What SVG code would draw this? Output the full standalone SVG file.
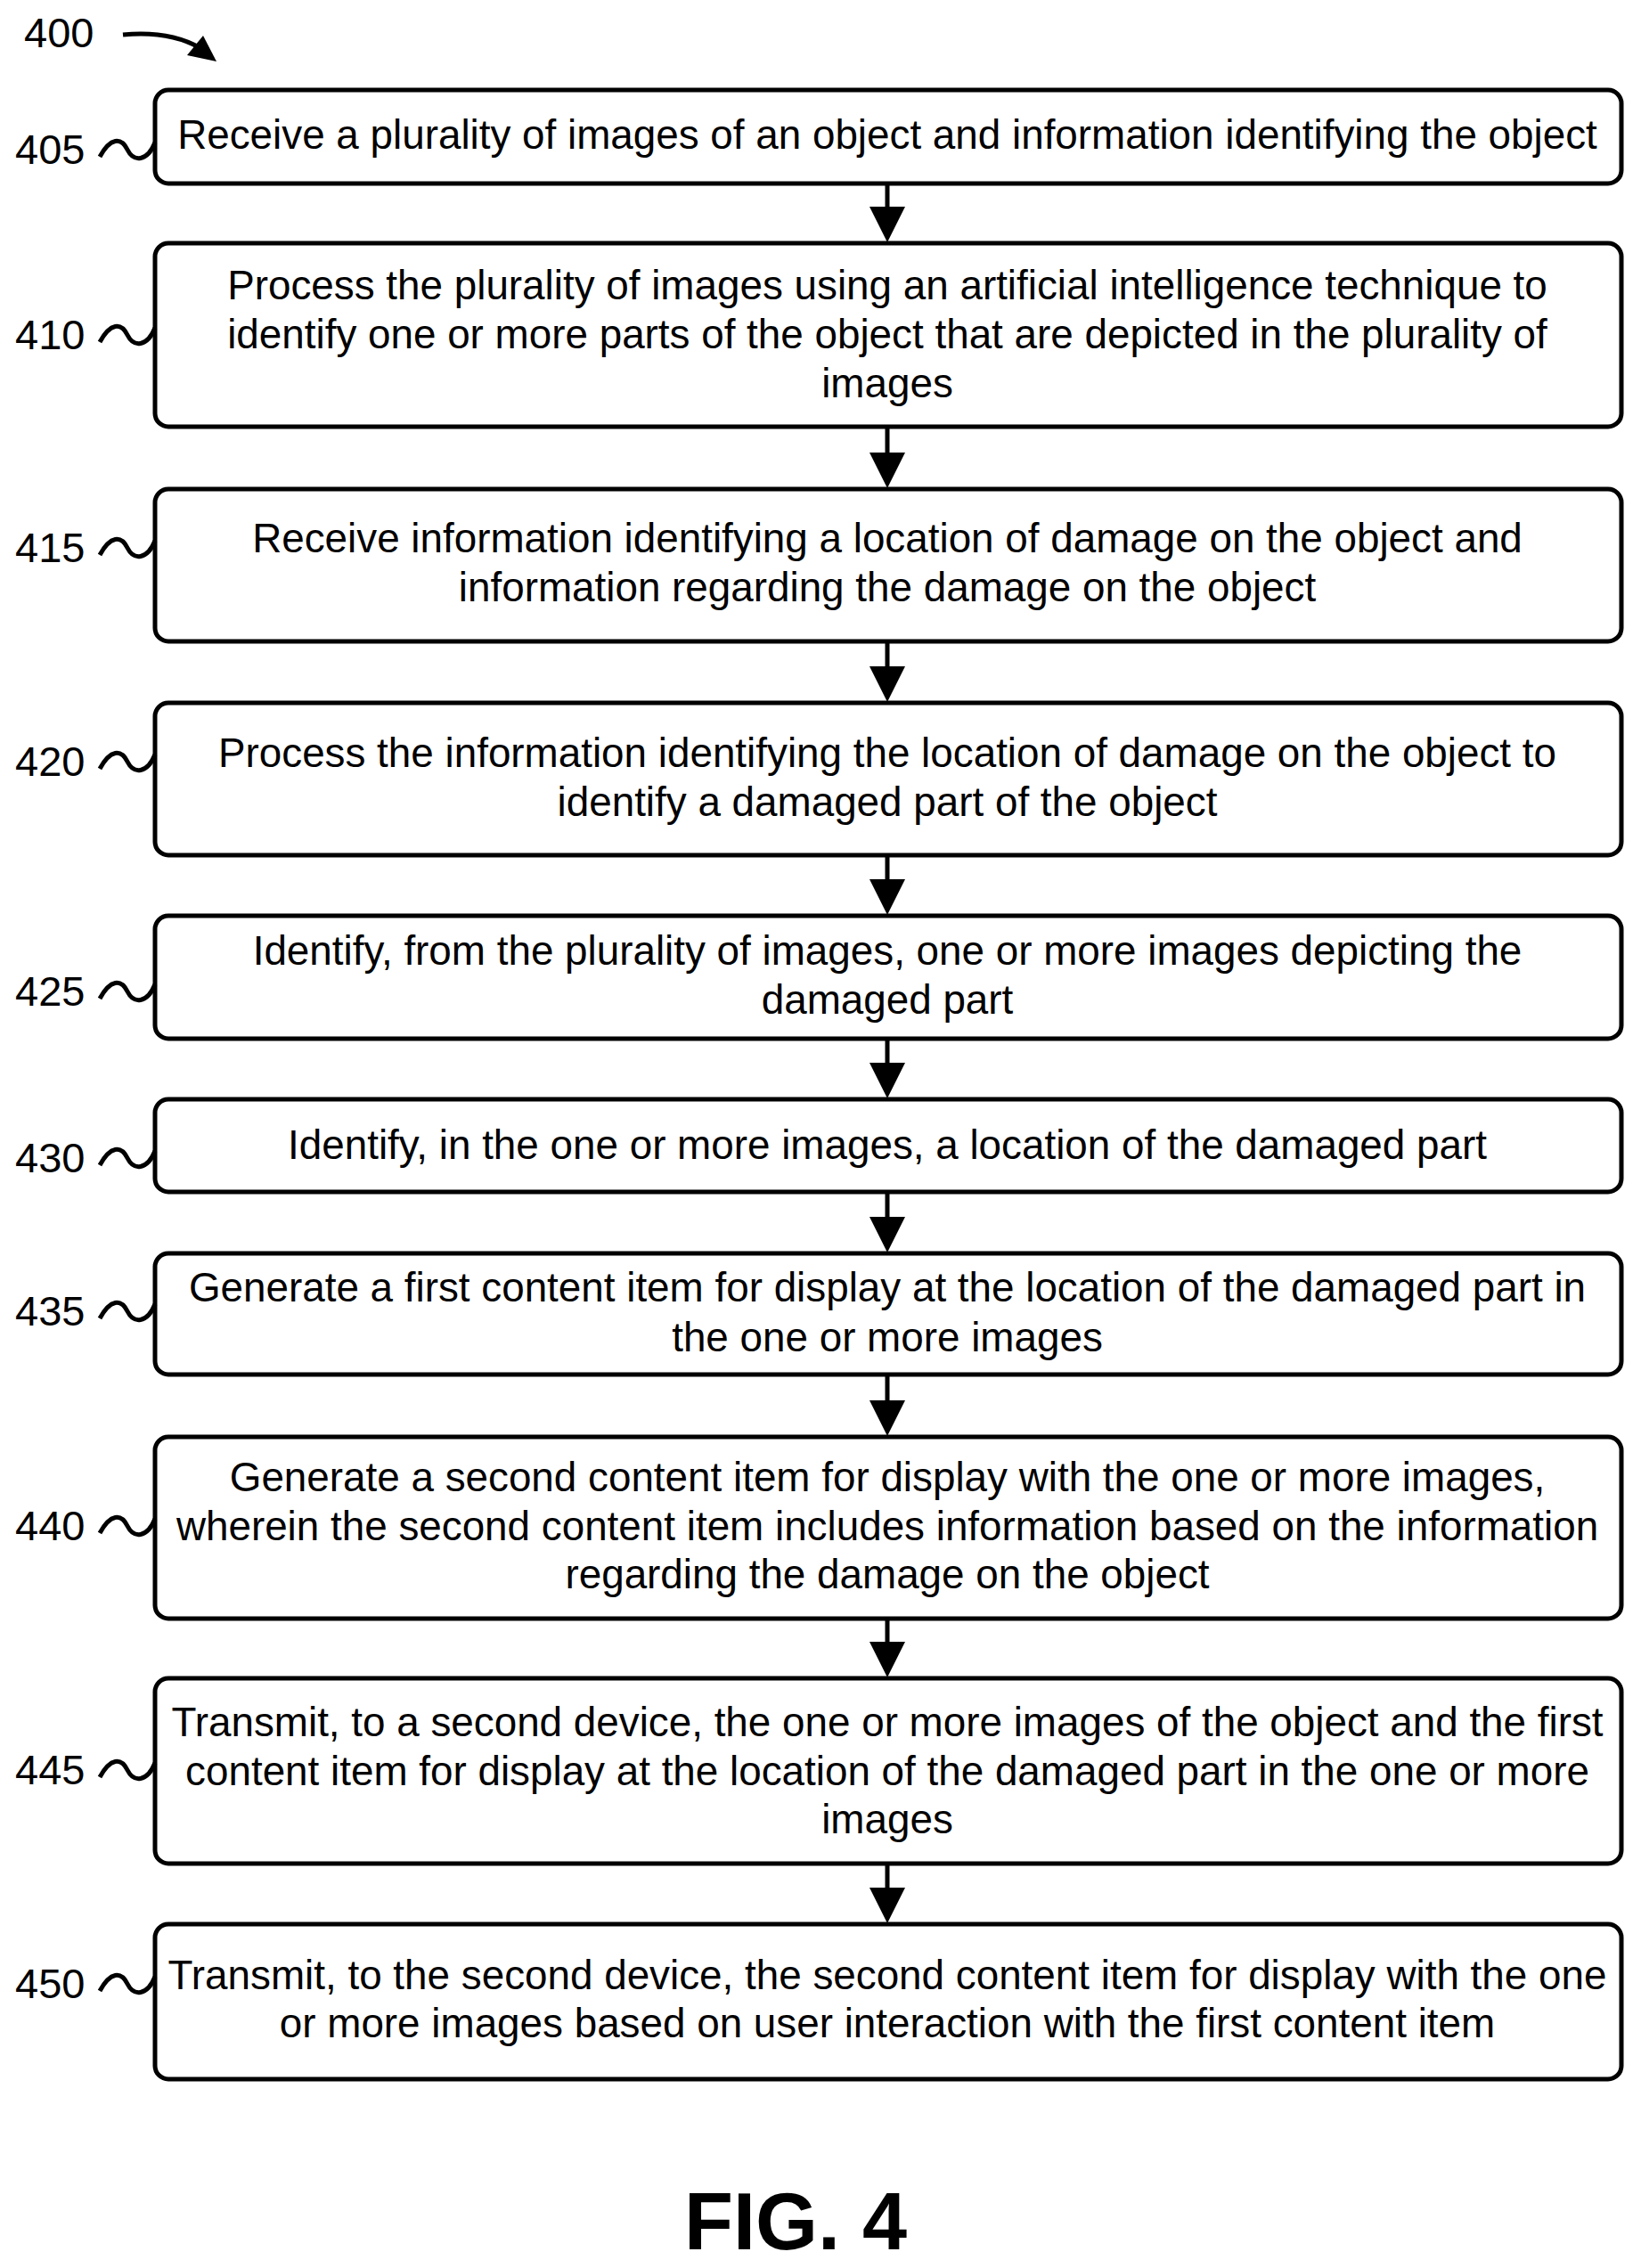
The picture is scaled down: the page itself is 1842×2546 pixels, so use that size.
<svg xmlns="http://www.w3.org/2000/svg" width="1842" height="2546" viewBox="0 0 1842 2546">
<style>
.b{fill:#fff;stroke:#000;stroke-width:5}
.t{font-family:"Liberation Sans",Arial,sans-serif;font-size:45.8px;text-anchor:middle;fill:#000}
.l{font-family:"Liberation Sans",Arial,sans-serif;font-size:47px;fill:#000}
.w{fill:none;stroke:#000;stroke-width:5}
.c{stroke:#000;stroke-width:5;fill:none;marker-end:url(#ah)}
</style>
<defs>
<marker id="ah" markerWidth="8" markerHeight="8" refX="4" refY="4" orient="auto" markerUnits="strokeWidth" viewBox="0 0 8 8"><path d="M0,0 L8,4 L0,8 z" fill="#000"/></marker>
</defs>
<rect width="1842" height="2546" fill="#fff"/>
<text class="l" x="27" y="53">400</text>
<path d="M138,39 Q190,34 225,54" fill="none" stroke="#000" stroke-width="5"/>
<path d="M243,69 L210,62 L228,40 z" fill="#000"/>
<g id="connectors">
<line class="c" x1="996" y1="206" x2="996" y2="252"/>
<line class="c" x1="996" y1="479" x2="996" y2="528"/>
<line class="c" x1="996" y1="720" x2="996" y2="768"/>
<line class="c" x1="996" y1="960" x2="996" y2="1007"/>
<line class="c" x1="996" y1="1166" x2="996" y2="1213"/>
<line class="c" x1="996" y1="1338" x2="996" y2="1386"/>
<line class="c" x1="996" y1="1543" x2="996" y2="1592"/>
<line class="c" x1="996" y1="1817" x2="996" y2="1863"/>
<line class="c" x1="996" y1="2092" x2="996" y2="2139"/>
</g>
<g id="n405"><rect class="b" x="174" y="101" width="1646" height="105" rx="15"/><text class="t" x="996" y="167">Receive a plurality of images of an object and information identifying the object</text><text class="l" x="17" y="184">405</text><path class="w" d="M112,176 c12,-22 24,-22 31,-8 c7,14 22,14 31,-8"/></g>
<g id="n410"><rect class="b" x="174" y="273" width="1646" height="206" rx="15"/><text class="t" x="996" y="336">Process the plurality of images using an artificial intelligence technique to</text><text class="t" x="996" y="391">identify one or more parts of the object that are depicted in the plurality of</text><text class="t" x="996" y="446">images</text><text class="l" x="17" y="392">410</text><path class="w" d="M112,384 c12,-22 24,-22 31,-8 c7,14 22,14 31,-8"/></g>
<g id="n415"><rect class="b" x="174" y="549" width="1646" height="171" rx="15"/><text class="t" x="996" y="620">Receive information identifying a location of damage on the object and</text><text class="t" x="996" y="675">information regarding the damage on the object</text><text class="l" x="17" y="631">415</text><path class="w" d="M112,623 c12,-22 24,-22 31,-8 c7,14 22,14 31,-8"/></g>
<g id="n420"><rect class="b" x="174" y="789" width="1646" height="171" rx="15"/><text class="t" x="996" y="861">Process the information identifying the location of damage on the object to</text><text class="t" x="996" y="916">identify a damaged part of the object</text><text class="l" x="17" y="871">420</text><path class="w" d="M112,863 c12,-22 24,-22 31,-8 c7,14 22,14 31,-8"/></g>
<g id="n425"><rect class="b" x="174" y="1028" width="1646" height="138" rx="15"/><text class="t" x="996" y="1083">Identify, from the plurality of images, one or more images depicting the</text><text class="t" x="996" y="1138">damaged part</text><text class="l" x="17" y="1129">425</text><path class="w" d="M112,1121 c12,-22 24,-22 31,-8 c7,14 22,14 31,-8"/></g>
<g id="n430"><rect class="b" x="174" y="1234" width="1646" height="104" rx="15"/><text class="t" x="996" y="1301">Identify, in the one or more images, a location of the damaged part</text><text class="l" x="17" y="1316">430</text><path class="w" d="M112,1308 c12,-22 24,-22 31,-8 c7,14 22,14 31,-8"/></g>
<g id="n435"><rect class="b" x="174" y="1407" width="1646" height="136" rx="15"/><text class="t" x="996" y="1461">Generate a first content item for display at the location of the damaged part in</text><text class="t" x="996" y="1517">the one or more images</text><text class="l" x="17" y="1488">435</text><path class="w" d="M112,1480 c12,-22 24,-22 31,-8 c7,14 22,14 31,-8"/></g>
<g id="n440"><rect class="b" x="174" y="1613" width="1646" height="204" rx="15"/><text class="t" x="996" y="1674">Generate a second content item for display with the one or more images,</text><text class="t" x="996" y="1729">wherein the second content item includes information based on the information</text><text class="t" x="996" y="1783">regarding the damage on the object</text><text class="l" x="17" y="1729">440</text><path class="w" d="M112,1721 c12,-22 24,-22 31,-8 c7,14 22,14 31,-8"/></g>
<g id="n445"><rect class="b" x="174" y="1884" width="1646" height="208" rx="15"/><text class="t" x="996" y="1949">Transmit, to a second device, the one or more images of the object and the first</text><text class="t" x="996" y="2004">content item for display at the location of the damaged part in the one or more</text><text class="t" x="996" y="2058">images</text><text class="l" x="17" y="2003">445</text><path class="w" d="M112,1995 c12,-22 24,-22 31,-8 c7,14 22,14 31,-8"/></g>
<g id="n450"><rect class="b" x="174" y="2160" width="1646" height="174" rx="15"/><text class="t" x="996" y="2233">Transmit, to the second device, the second content item for display with the one</text><text class="t" x="996" y="2287">or more images based on user interaction with the first content item</text><text class="l" x="17" y="2243">450</text><path class="w" d="M112,2235 c12,-22 24,-22 31,-8 c7,14 22,14 31,-8"/></g>
<text x="893" y="2525" font-family="Liberation Sans,Arial,sans-serif" font-size="90" font-weight="bold" text-anchor="middle">FIG. 4</text>
</svg>
